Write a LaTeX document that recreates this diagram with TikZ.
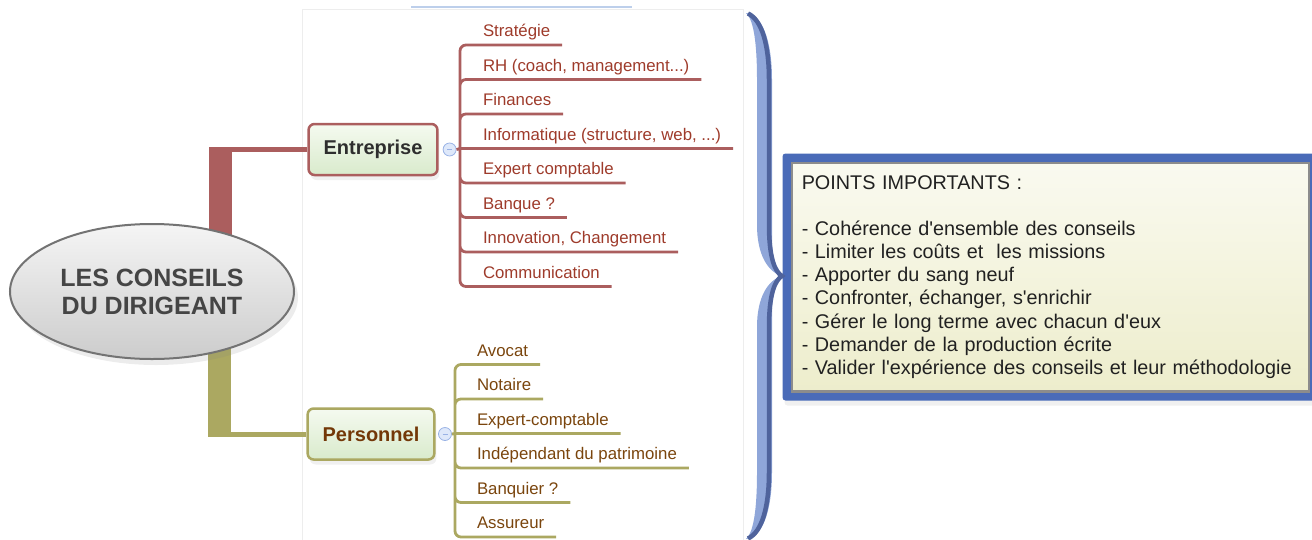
\documentclass[tikz,border=0pt]{standalone}
\usepackage{fontspec}
\newfontfamily\mapfont{Liberation Sans}
\usepackage{tikz}
\usetikzlibrary{shapes.geometric}
\usetikzlibrary{positioning}
\usetikzlibrary{fit}
\usetikzlibrary{shadows}
\usetikzlibrary{backgrounds}
\definecolor{rootTop}{rgb}{0.96,0.96,0.96}
\definecolor{rootBot}{rgb}{0.80,0.80,0.80}
\definecolor{rootBorder}{rgb}{0.45,0.45,0.45}
\definecolor{rootText}{rgb}{0.27,0.27,0.27}
\definecolor{topicTop}{rgb}{0.96,0.98,0.94}
\definecolor{topicBot}{rgb}{0.85,0.92,0.80}
\definecolor{entLine}{rgb}{0.67,0.37,0.37}
\definecolor{entText}{rgb}{0.62,0.23,0.17}
\definecolor{persLine}{rgb}{0.67,0.66,0.38}
\definecolor{persText}{rgb}{0.48,0.27,0.05}
\definecolor{persTitle}{rgb}{0.45,0.22,0.03}
\definecolor{btnFill}{rgb}{0.87,0.91,0.98}
\definecolor{btnBorder}{rgb}{0.60,0.70,0.90}
\definecolor{noteBlue}{rgb}{0.29,0.42,0.72}
\definecolor{noteGray}{rgb}{0.55,0.55,0.55}
\definecolor{noteTop}{rgb}{0.98,0.98,0.94}
\definecolor{noteBot}{rgb}{0.93,0.93,0.80}
\definecolor{noteText}{rgb}{0.13,0.13,0.13}
\definecolor{braceLight}{rgb}{0.56,0.65,0.85}
\definecolor{braceDark}{rgb}{0.31,0.39,0.61}
\definecolor{panelGray}{rgb}{0.93,0.93,0.93}
\definecolor{topBlue}{rgb}{0.74,0.81,0.92}
\tikzstyle{centre} = [ellipse, draw=rootBorder, line width=2pt, top color=rootTop,
        bottom color=rootBot, minimum width=284pt, minimum height=135pt, inner sep=0pt,
        align=center, text=rootText, font={\mapfont\fontsize{25}{28}\selectfont\bfseries},
        drop shadow={shadow xshift=4pt, shadow yshift=-6pt, opacity=0.15}]
\tikzstyle{topic} = [rectangle, rounded corners=6pt, line width=2.5pt, top color=topicTop,
        bottom color=topicBot, minimum height=51pt, inner xsep=15pt,
        font={\mapfont\fontsize{20}{24}\selectfont\bfseries},
        drop shadow={shadow xshift=2pt, shadow yshift=-5pt, opacity=0.12}]
\tikzstyle{leaf} = [anchor=north west, inner xsep=12pt, inner ysep=4.5pt, outer sep=0pt,
        text height=21.5pt, text depth=4pt, font={\mapfont\fontsize{16.8}{20}\selectfont}]
\tikzstyle{twig} = [line width=2.8pt, rounded corners=6pt]
\tikzstyle{collapser} = [circle, minimum size=13pt, inner sep=0pt, fill=btnFill,
        draw=btnBorder, line width=0.8pt,
        path picture={\draw[btnBorder, line width=1pt]
            ([xshift=-2.5pt]path picture bounding box.center) --
            ([xshift=2.5pt]path picture bounding box.center);}]
\tikzstyle{notebox} = [anchor=north west, draw=noteGray, line width=2.5pt, top color=noteTop,
        bottom color=noteBot, minimum width=517pt, minimum height=228.5pt,
        text width=497pt, inner xsep=10pt, align=left, text=noteText,
        font={\mapfont\fontsize{19.8}{23.1}\selectfont}]
\tikzstyle{noteframe} = [fill=noteBlue, rounded corners=3pt, inner sep=8pt,
        drop shadow={shadow xshift=2pt, shadow yshift=-5pt, opacity=0.12}]

\begin{document}
\begin{tikzpicture}[x=1pt, y=-1pt]
    \useasboundingbox (0,0) rectangle (1312,539);

    \node[centre] (centre) at (152,291.5) {LES CONSEILS\\DU DIRIGEANT};
    \node[topic, draw=entLine, text=black!82] (ent) at (373,149.5) {Entreprise};
    \node[topic, draw=persLine, text=persTitle] (pers) at (371,434) {Personnel};
    \node[collapser, right=4pt of ent] (entbtn) {};
    \node[collapser, right=2.5pt of pers] (persbtn) {};

    \node[leaf, text=entText] (e0) at (471,10.5) {Stratégie};
    \node[leaf, text=entText] (e1) at (e0.south west) {RH (coach, management...)};
    \node[leaf, text=entText] (e2) at (e1.south west) {Finances};
    \node[leaf, text=entText] (e3) at (e2.south west) {Informatique (structure, web, ...)};
    \node[leaf, text=entText] (e4) at (e3.south west) {Expert comptable};
    \node[leaf, text=entText] (e5) at (e4.south west) {Banque ?};
    \node[leaf, text=entText] (e6) at (e5.south west) {Innovation, Changement};
    \node[leaf, text=entText] (e7) at (e6.south west) {Communication};
    \coordinate (entfork) at ([xshift=-11pt]e3.south west);

    \node[leaf, text=persText] (p0) at (465,330) {Avocat};
    \node[leaf, text=persText] (p1) at (p0.south west) {Notaire};
    \node[leaf, text=persText] (p2) at (p1.south west) {Expert-comptable};
    \node[leaf, text=persText] (p3) at (p2.south west) {Indépendant du patrimoine};
    \node[leaf, text=persText] (p4) at (p3.south west) {Banquier ?};
    \node[leaf, text=persText] (p5) at (p4.south west) {Assureur};
    \coordinate (persfork) at ([xshift=-10pt]p2.south west);

    \draw[twig, entLine] (entbtn.east) -- (entfork)
        (entfork) |- (e0.south east) (entfork) |- (e1.south east)
        (entfork) |- (e2.south east) (entfork) -- (e3.south east)
        (entfork) |- (e4.south east) (entfork) |- (e5.south east)
        (entfork) |- (e6.south east) (entfork) |- (e7.south east);
    \draw[twig, persLine] (persbtn.east) -- (persfork)
        (persfork) |- (p0.south east) (persfork) |- (p1.south east)
        (persfork) -- (p2.south east) (persfork) |- (p3.south east)
        (persfork) |- (p4.south east) (persfork) |- (p5.south east);

    \node[notebox] (note) at (790.5,161.5) {POINTS IMPORTANTS :\\[23.1pt]
        - Cohérence d'ensemble des conseils\\
        - Limiter les coûts et\ \ les missions\\
        - Apporter du sang neuf\\
        - Confronter, échanger, s'enrichir\\
        - Gérer le long terme avec chacun d'eux\\
        - Demander de la production écrite\\
        - Valider l'expérience des conseils et leur méthodologie};

    % brace
    \fill[braceLight] (746,13) .. controls (754,20) and (757,45) .. (757,80) -- (757,225)
        .. controls (757,255) and (768,272) .. (782,276)
        .. controls (768,280) and (757,297) .. (757,327) -- (757,472)
        .. controls (757,507) and (754,532) .. (746,539)
        .. controls (762,538) and (772,512) .. (772,472) -- (772,327)
        .. controls (772,297) and (772,282) .. (782,276)
        .. controls (772,270) and (772,255) .. (772,225) -- (772,80)
        .. controls (772,40) and (762,14) .. (746,13) -- cycle;
    \draw[braceDark, line width=4.5pt] (748,13.5) .. controls (762,20) and (769,45) .. (769,80)
        -- (769,225) .. controls (769,258) and (775,272) .. (782,276)
        .. controls (775,280) and (769,294) .. (769,327) -- (769,472)
        .. controls (769,507) and (762,532) .. (748,538.5);

    \begin{pgfonlayer}{background}
        \draw[panelGray, line width=0.8pt] (302,545) -- (302,9) -- (743,9) -- (743,545);
        \draw[topBlue, line width=1.2pt] (411,7) -- (632,7);
        \node[noteframe, fit=(note)] (noteback) {};
        \draw[entLine, line width=5pt] (ent.west) -- ++(-98,0) coordinate (entknee);
        \draw[entLine, line width=23pt] ([xshift=11.5pt,yshift=2.5pt]entknee)
            -- ([xshift=11.5pt]entknee |- centre.center);
        \draw[persLine, line width=5pt] (pers.west) -- ++(-98,0) coordinate (persknee);
        \draw[persLine, line width=23pt] ([xshift=11.5pt,yshift=-2.5pt]persknee)
            -- ([xshift=11.5pt]persknee |- centre.center);
    \end{pgfonlayer}
\end{tikzpicture}
\end{document}
